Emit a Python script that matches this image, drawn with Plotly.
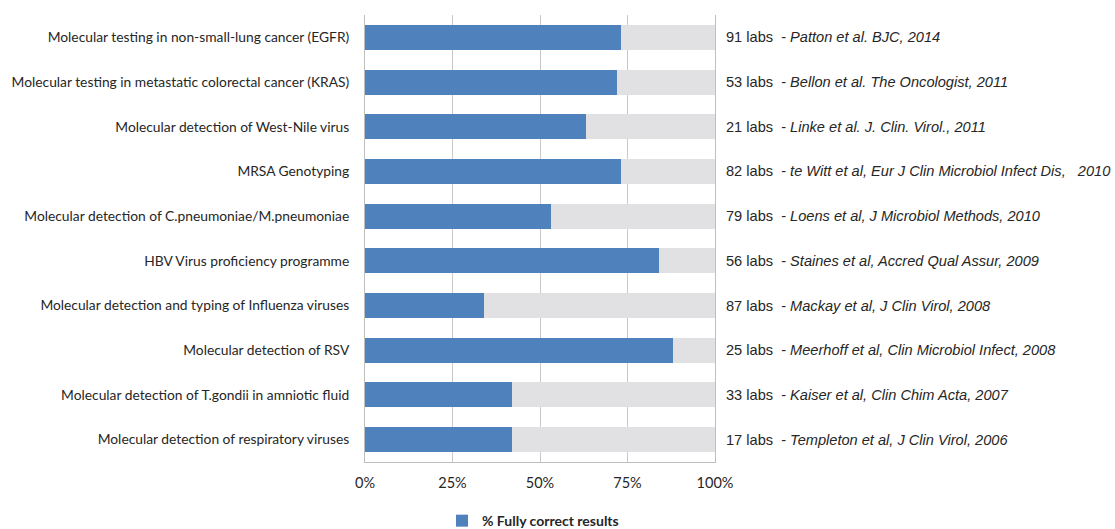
import plotly.graph_objects as go

categories = [
    "Molecular testing in non-small-lung cancer (EGFR)",
    "Molecular testing in metastatic colorectal cancer (KRAS)",
    "Molecular detection of West-Nile virus",
    "MRSA Genotyping",
    "Molecular detection of C.pneumoniae/M.pneumoniae",
    "HBV Virus proficiency programme",
    "Molecular detection and typing of Influenza viruses",
    "Molecular detection of RSV",
    "Molecular detection of T.gondii in amniotic fluid",
    "Molecular detection of respiratory viruses",
]
pct_correct = [73, 72, 63, 73, 53, 84, 34, 88, 42, 42]
labs = ["91 labs", "53 labs", "21 labs", "82 labs", "79 labs",
        "56 labs", "87 labs", "25 labs", "33 labs", "17 labs"]
refs = [
    "Patton et al. BJC, 2014",
    "Bellon et al. The Oncologist, 2011",
    "Linke et al. J. Clin. Virol., 2011",
    "te Witt et al, Eur J Clin Microbiol Infect Dis,   2010",
    "Loens et al, J Microbiol Methods, 2010",
    "Staines et al, Accred Qual Assur, 2009",
    "Mackay et al, J Clin Virol, 2008",
    "Meerhoff et al, Clin Microbiol Infect, 2008",
    "Kaiser et al, Clin Chim Acta, 2007",
    "Templeton et al, J Clin Virol, 2006",
]
tick_vals = [0, 25, 50, 75, 100]
tick_text = ["0%", "25%", "50%", "75%", "100%"]

remainder = [100 - v for v in pct_correct]

fig = go.Figure()
fig.add_trace(go.Bar(
    y=categories, x=pct_correct, orientation="h",
    name="% Fully correct results",
    marker=dict(color="#4f81bd", line=dict(width=0)),
))
fig.add_trace(go.Bar(
    y=categories, x=remainder, orientation="h",
    name="rest", showlegend=False,
    marker=dict(color="#e1e1e3", line=dict(width=0)),
))

for cat, lab, ref in zip(categories, labs, refs):
    fig.add_annotation(
        x=1, xref="paper", y=cat, yref="y",
        xanchor="left", xshift=9, showarrow=False,
        text=f"{lab}  - <i>{ref.replace('   ', '&nbsp;&nbsp;&nbsp;')}</i>",
        font=dict(family="Liberation Sans, Arial", size=14.6, color="#262626"),
    )

fig.update_layout(
    width=1115, height=529,
    margin=dict(l=365, r=400, t=15, b=67, autoexpand=False),
    barmode="stack", bargap=0.44,
    plot_bgcolor="white", paper_bgcolor="white",
    font=dict(family="Lato, Open Sans, sans-serif", size=13.8, color="#262626"),
    legend=dict(orientation="h", x=0.22, xanchor="left",
                yref="container", y=0.015, yanchor="middle",
                font=dict(size=14, color="#262626", weight="bold"),
                itemwidth=30),
    xaxis=dict(range=[0, 100], tickvals=tick_vals, ticktext=tick_text,
               showgrid=True, gridcolor="#c9c9c9", gridwidth=1,
               showline=True, linecolor="#bfbfbf", linewidth=1,
               zeroline=False, ticks="", ticklabelstandoff=8,
               tickfont=dict(size=14.5)),
    yaxis=dict(autorange="reversed", showgrid=False,
               showline=True, linecolor="#bfbfbf", linewidth=1, mirror=True,
               ticks="", ticklabelstandoff=12),
)

fig.write_html("out.html")
